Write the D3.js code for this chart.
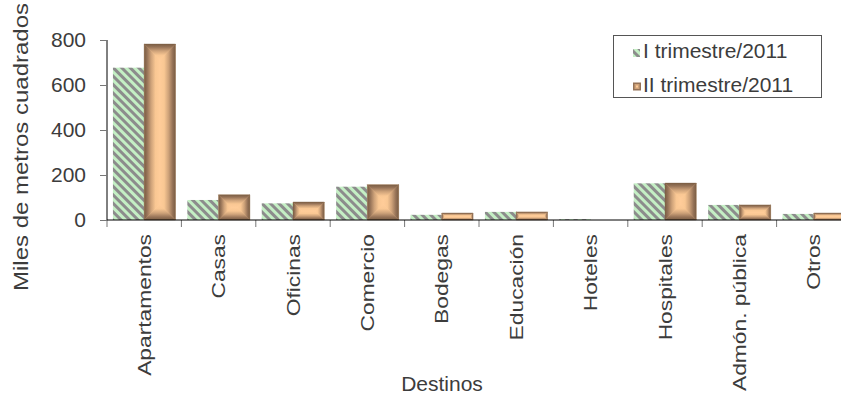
<!DOCTYPE html>
<html>
<head>
<meta charset="utf-8">
<script src="https://cdn.jsdelivr.net/npm/d3@7"></script>
<style>
  html, body { margin: 0; padding: 0; background: #fff; }
  svg { display: block; font-family: "Liberation Sans", Arial, sans-serif; }
</style>
</head>
<body>
<svg id="chart" width="841" height="394"></svg>
<script>
// Área aprobada por destino (miles de m²)
const categories = ["Apartamentos", "Casas", "Oficinas", "Comercio", "Bodegas",
                    "Educación", "Hoteles", "Hospitales", "Admón. pública", "Otros"];
const seriesNames = ["I trimestre/2011", "II trimestre/2011"];
const trim1 = [677, 89, 74, 148, 23, 36, 4, 163, 67, 27];
const trim2 = [782, 112, 80, 157, 31, 36, 0, 164, 67, 31];
const yTicks = [0, 200, 400, 600, 800];
const yTitle = "Miles de metros cuadrados";
const xTitle = "Destinos";

const svg = d3.select("#chart");
const textColor = "#3c3c3c";
const plotLeft = 107, plotTop = 40, plotBottom = 220, plotRight = 851;

const x = d3.scaleBand().domain(categories).range([plotLeft, plotRight]).padding(0);
const x1 = d3.scaleBand().domain(seriesNames).range([0, x.bandwidth()])
  .paddingInner(0).paddingOuter(0.19);
const y = d3.scaleLinear().domain([0, 800]).range([plotBottom, plotTop]);

// ----- fills -----
const defs = svg.append("defs");
const stripes = defs.append("pattern")
  .attr("id", "stripes").attr("patternUnits", "userSpaceOnUse")
  .attr("width", 6).attr("height", 6)
  .attr("patternTransform", "rotate(-45)");
stripes.append("rect").attr("width", 3).attr("height", 6).attr("fill", "#c4efc4");
stripes.append("rect").attr("x", 3).attr("width", 3).attr("height", 6).attr("fill", "#8c8c8c");

const light = "#ffcc99";
const ramp = [[0, "#7a5d43"], [0.18, "#957257"], [0.45, "#cfa37a"], [0.72, "#f9c793"], [1, light]];
function grad(id, x1g, y1g, x2g, y2g) {
  const g = defs.append("linearGradient").attr("id", id)
    .attr("x1", x1g).attr("y1", y1g).attr("x2", x2g).attr("y2", y2g);
  ramp.forEach(([o, c]) => g.append("stop").attr("offset", o).attr("stop-color", c));
}
grad("gL", 0, 0, 1, 0);  // dark at left edge -> light inward
grad("gR", 1, 0, 0, 0);
grad("gT", 0, 0, 0, 1);
grad("gB", 0, 1, 0, 0);

// ----- bars -----
const rows = categories.map((c, i) => ({ cat: c, v: [trim1[i], trim2[i]] }));
const groups = svg.append("g").selectAll("g").data(rows).join("g")
  .attr("transform", d => `translate(${x(d.cat)},0)`);

// series I: striped
groups.append("rect")
  .attr("x", x1(seriesNames[0]))
  .attr("y", d => y(d.v[0]))
  .attr("width", x1.bandwidth())
  .attr("height", d => y(0) - y(d.v[0]))
  .attr("fill", "url(#stripes)");

// series II: edge-to-centre gradient made of four bevel pieces plus a light core
groups.each(function(d) {
  const g = d3.select(this);
  const x0 = x1(seriesNames[1]), x2 = x0 + x1.bandwidth();
  const y0 = y(d.v[1]), y2 = y(0);
  const w = x2 - x0, h = y2 - y0;
  if (h < 0.5) return;
  const r = Math.min(w, h) / 2;
  const pts = p => "M" + p.map(q => q.join(",")).join("L") + "Z";
  const pieces = [
    [[[x0, y0], [x0 + r, y0 + r], [x0 + r, y2 - r], [x0, y2]], "gL"],
    [[[x2, y0], [x2 - r, y0 + r], [x2 - r, y2 - r], [x2, y2]], "gR"],
    [[[x0, y0], [x2, y0], [x2 - r, y0 + r], [x0 + r, y0 + r]], "gT"],
    [[[x0, y2], [x2, y2], [x2 - r, y2 - r], [x0 + r, y2 - r]], "gB"]
  ];
  g.append("rect").attr("x", x0).attr("y", y0).attr("width", w).attr("height", h)
    .attr("fill", light);
  pieces.forEach(([p, id]) => {
    g.append("path").attr("d", pts(p))
      .attr("fill", `url(#${id})`)
      .attr("stroke", `url(#${id})`).attr("stroke-width", 0.4);
  });
});

// ----- y axis -----
const yAxis = svg.append("g").attr("transform", `translate(${plotLeft},0)`)
  .call(d3.axisLeft(y).tickValues(yTicks).tickSize(7).tickPadding(14));
yAxis.select(".domain").attr("stroke", "#000").attr("d", `M0,${plotTop}V${plotBottom}`);
yAxis.selectAll(".tick line").attr("stroke", "#777");
yAxis.selectAll(".tick text").attr("fill", textColor)
  .style("font-size", "21px").style("font-family", "'Liberation Sans', Arial, sans-serif");

// ----- x axis -----
const boundaries = categories.map(c => x(c)).concat([x.range()[1]]);
svg.append("g").selectAll("line").data(boundaries).join("line")
  .attr("x1", d => d).attr("x2", d => d)
  .attr("y1", plotBottom).attr("y2", plotBottom + 7)
  .attr("stroke", "#777");
svg.append("line")
  .attr("x1", plotLeft).attr("x2", plotRight).attr("y1", plotBottom).attr("y2", plotBottom)
  .attr("stroke", "#000");

svg.append("g").selectAll("text").data(categories).join("text")
  .attr("transform", d => `translate(${x(d) + x.bandwidth() / 2},234) rotate(-90) scale(1.2,1)`)
  .attr("text-anchor", "end").attr("dy", "0.35em")
  .attr("fill", textColor).style("font-size", "19px")
  .text(d => d);

// ----- titles -----
svg.append("text")
  .attr("transform", "translate(27.5,147) rotate(-90) scale(1.2,1)")
  .attr("text-anchor", "middle").attr("fill", textColor)
  .style("font-size", "20px").text(yTitle);

svg.append("text")
  .attr("x", 442).attr("y", 391).attr("text-anchor", "middle")
  .attr("fill", textColor).style("font-size", "21px").text(xTitle);

// ----- legend -----
const legend = svg.append("g");
legend.append("rect").attr("x", 613.5).attr("y", 35.5).attr("width", 208).attr("height", 62)
  .attr("fill", "#fff").attr("stroke", "#555");
seriesNames.forEach((name, i) => {
  const by = [58, 91.5][i];
  const sw = legend.append("g").attr("transform", `translate(633,${by - 9})`);
  if (i === 0) {
    sw.append("rect").attr("width", 7).attr("height", 8).attr("fill", "url(#stripes)");
  } else {
    sw.append("rect").attr("width", 8).attr("height", 8).attr("fill", "#957257");
    sw.append("rect").attr("x", 1.5).attr("y", 1.5).attr("width", 5).attr("height", 5).attr("fill", "#cfa37a");
    sw.append("rect").attr("x", 3).attr("y", 3).attr("width", 2).attr("height", 2).attr("fill", light);
  }
  legend.append("text").attr("x", 643).attr("y", by)
    .attr("fill", textColor).style("font-size", "21px").text(name);
});
</script>
</body>
</html>
